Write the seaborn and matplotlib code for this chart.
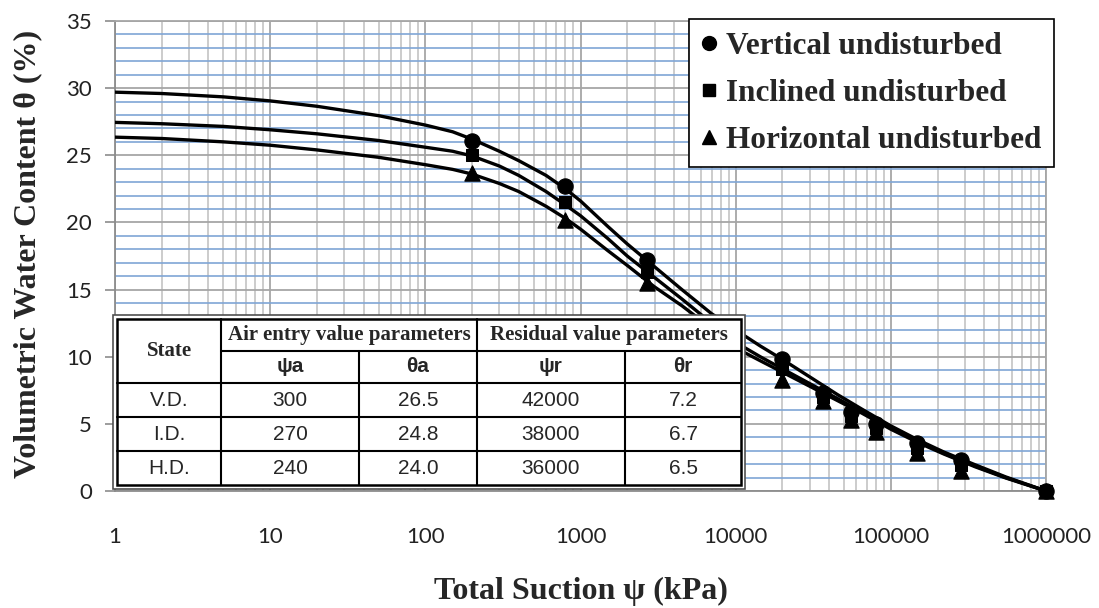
import numpy as np
import pandas as pd
import matplotlib
matplotlib.use("Agg")
import matplotlib.pyplot as plt
from matplotlib.lines import Line2D
from matplotlib.patches import Rectangle
from matplotlib.ticker import LogLocator, MultipleLocator, NullFormatter
import seaborn as sns

# measured points (total suction in kPa, volumetric water content in %)
psi_points = [200, 800, 2700, 20000, 36500, 55000, 80000, 148000, 285000, 1000000]
theta_vd = [26.1, 22.7, 17.2, 9.8, 7.3, 5.9, 5.0, 3.6, 2.3, 0.0]
theta_id = [25.0, 21.5, 16.3, 9.1, 7.0, 5.6, 4.7, 3.2, 1.9, 0.0]
theta_hd = [23.7, 20.2, 15.5, 8.3, 6.7, 5.3, 4.4, 2.85, 1.5, 0.0]

# fitted curves
psi_curve = [1, 2, 5, 10, 20, 50, 100, 150, 200, 300, 400, 600, 800, 1000, 1500,
             2000, 3000, 4500, 7000, 10600, 14400, 20000, 30000, 45000, 65000,
             100000, 150000, 220000, 350000, 550000, 1000000]
fit_vd = [29.7, 29.6, 29.35, 29.05, 28.65, 27.95, 27.25, 26.75, 26.2, 25.3, 24.6,
          23.5, 22.5, 21.6, 19.7, 18.4, 16.7, 15.0, 13.2, 11.8, 10.8, 9.8, 8.5,
          7.2, 6.1, 4.85, 3.8, 2.9, 1.95, 1.05, 0.0]
fit_id = [27.45, 27.35, 27.15, 26.9, 26.6, 26.1, 25.6, 25.3, 24.95, 24.2, 23.5,
          22.3, 21.3, 20.5, 18.8, 17.5, 15.9, 14.3, 12.5, 10.9, 10.0, 9.1, 8.0,
          6.9, 5.9, 4.7, 3.7, 2.8, 1.85, 1.0, 0.0]
fit_hd = [26.35, 26.25, 26.0, 25.75, 25.4, 24.85, 24.3, 23.95, 23.6, 22.9, 22.3,
          21.2, 20.3, 19.5, 17.9, 16.8, 15.2, 13.8, 12.1, 10.5, 9.7, 8.85, 7.8,
          6.75, 5.8, 4.6, 3.6, 2.75, 1.8, 0.97, 0.0]

labels = ["Vertical undisturbed", "Inclined undisturbed", "Horizontal undisturbed"]
markers = ["o", "s", "^"]

x_ticks = [1, 10, 100, 1000, 10000, 100000, 1000000]
x_tick_labels = ["1", "10", "100", "1000", "10000", "100000", "1000000"]
y_ticks = [0, 5, 10, 15, 20, 25, 30, 35]

# table content
tab_states = ["V.D.", "I.D.", "H.D."]
tab_psi_a = ["300", "270", "240"]
tab_theta_a = ["26.5", "24.8", "24.0"]
tab_psi_r = ["42000", "38000", "36000"]
tab_theta_r = ["7.2", "6.7", "6.5"]

sns.set_theme(style="white")
plt.rcParams["font.family"] = ["Liberation Serif", "DejaVu Serif"]

W, H = 1099, 608
fig = plt.figure(figsize=(W / 100, H / 100), dpi=100)
ax = fig.add_axes([115 / W, (H - 491) / H, 931 / W, 470 / H])

fits = [fit_vd, fit_id, fit_hd]
points = [theta_vd, theta_id, theta_hd]
for lab, fit in zip(labels, fits):
    d = pd.DataFrame({"psi": psi_curve, "theta": fit})
    sns.lineplot(data=d, x="psi", y="theta", ax=ax, color="black", lw=2.4,
                 sort=False, estimator=None, legend=False, zorder=3)

for lab, pts, mk in zip(labels, points, markers):
    d = pd.DataFrame({"psi": psi_points, "theta": pts})
    sns.scatterplot(data=d, x="psi", y="theta", ax=ax, marker=mk, color="black",
                    edgecolor="black", s=120 if mk != "s" else 85, legend=False,
                    zorder=4, clip_on=False)

ax.set_xscale("log")
ax.set_xlim(1, 1e6)
ax.set_ylim(0, 35)
ax.set_xticks(x_ticks, x_tick_labels)
ax.set_yticks(y_ticks)
ax.xaxis.set_minor_locator(LogLocator(base=10, subs=range(2, 10), numticks=20))
ax.xaxis.set_minor_formatter(NullFormatter())
ax.yaxis.set_minor_locator(MultipleLocator(1))

ax.grid(which="major", axis="both", color="#a6a6a6", lw=1.3, zorder=1)
ax.grid(which="minor", axis="x", color="#c8c8c8", lw=1.3, zorder=1)
ax.grid(which="minor", axis="y", color="#7fa6d6", lw=1.2, zorder=1)
ax.set_axisbelow(True)

for s in ax.spines.values():
    s.set_color("#a6a6a6")
    s.set_linewidth(1.3)
ax.spines["left"].set_color("#8c8c8c")
ax.spines["bottom"].set_color("#8c8c8c")

ax.tick_params(axis="x", which="both", length=0, pad=26, labelsize=16,
               labelcolor="#222222")
ax.tick_params(axis="y", which="major", length=7.5, width=1.2, color="#8c8c8c",
               pad=9, labelsize=16, labelcolor="#222222", left=True)
ax.tick_params(axis="y", which="minor", length=0)
for t in ax.get_xticklabels() + ax.get_yticklabels():
    t.set_fontfamily(["Lato", "DejaVu Sans"])

ax.set_xlabel("")
ax.set_ylabel("")
fig.text(581 / W, 1 - 591 / H, "Total Suction ψ (kPa)", ha="center", va="center",
         fontsize=23, fontweight="bold")
fig.text(28 / W, 1 - 254 / H, "Volumetric Water Content θ (%)", ha="center",
         va="center", rotation=90, fontsize=23, fontweight="bold")

handles = [Line2D([], [], ls="none", marker=mk, color="black",
                  markersize=10 if mk != "s" else 8.5) for mk in markers]
leg = ax.legend(handles, labels, loc="upper left", bbox_to_anchor=(0.6165, 1.004),
                borderaxespad=0, frameon=True, fancybox=False,
                prop={"weight": "bold", "size": 22.5}, handlelength=0.5,
                handletextpad=0.3, borderpad=0.4, labelspacing=0.58)
leg.get_frame().set_edgecolor("black")
leg.get_frame().set_linewidth(1.2)
leg.get_frame().set_alpha(1)
leg.set_zorder(6)

# table drawn in an overlay axes using pixel coordinates
tx = fig.add_axes([111 / W, (H - 491) / H, (748 - 111) / W, (491 - 312) / H])
tx.set_xlim(111, 748)
tx.set_ylim(491, 312)
tx.axis("off")
tx.set_zorder(5)
tx.add_patch(Rectangle((113, 315), 632, 174, facecolor="white",
                       edgecolor="#505050", lw=1.2))
tx.add_patch(Rectangle((117, 319), 624, 166, facecolor="none",
                       edgecolor="black", lw=1.8))
lc = dict(color="black", lw=1.5)
tx.plot([221, 221], [319, 485], **lc)
tx.plot([477, 477], [319, 485], **lc)
tx.plot([359, 359], [351, 485], **lc)
tx.plot([625, 625], [351, 485], **lc)
tx.plot([221, 741], [351, 351], **lc)
for yy in [383, 417, 451]:
    tx.plot([117, 741], [yy, yy], **lc)

col_x = [169, 290, 418, 551, 683]
serif_b = dict(fontsize=15, fontweight="bold", ha="center", va="center",
               family=["Liberation Serif", "DejaVu Serif"])
sans_b = dict(fontsize=15, fontweight="bold", ha="center", va="center",
              family=["Liberation Sans", "DejaVu Sans"])
sans = dict(fontsize=15, ha="center", va="center",
            family=["Liberation Sans", "DejaVu Sans"])
tx.text(169, 351, "State", **serif_b)
tx.text(349, 335, "Air entry value parameters", **serif_b)
tx.text(609, 335, "Residual value parameters", **serif_b)
for cx, s in zip(col_x[1:], ["ψa", "θa", "ψr", "θr"]):
    tx.text(cx, 367, s, **sans_b)
row_y = [400, 434, 468]
for i, ry in enumerate(row_y):
    row = [tab_states[i], tab_psi_a[i], tab_theta_a[i], tab_psi_r[i], tab_theta_r[i]]
    for cx, s in zip(col_x, row):
        tx.text(cx, ry, s, **sans)

fig.savefig("out.png", dpi=100)
